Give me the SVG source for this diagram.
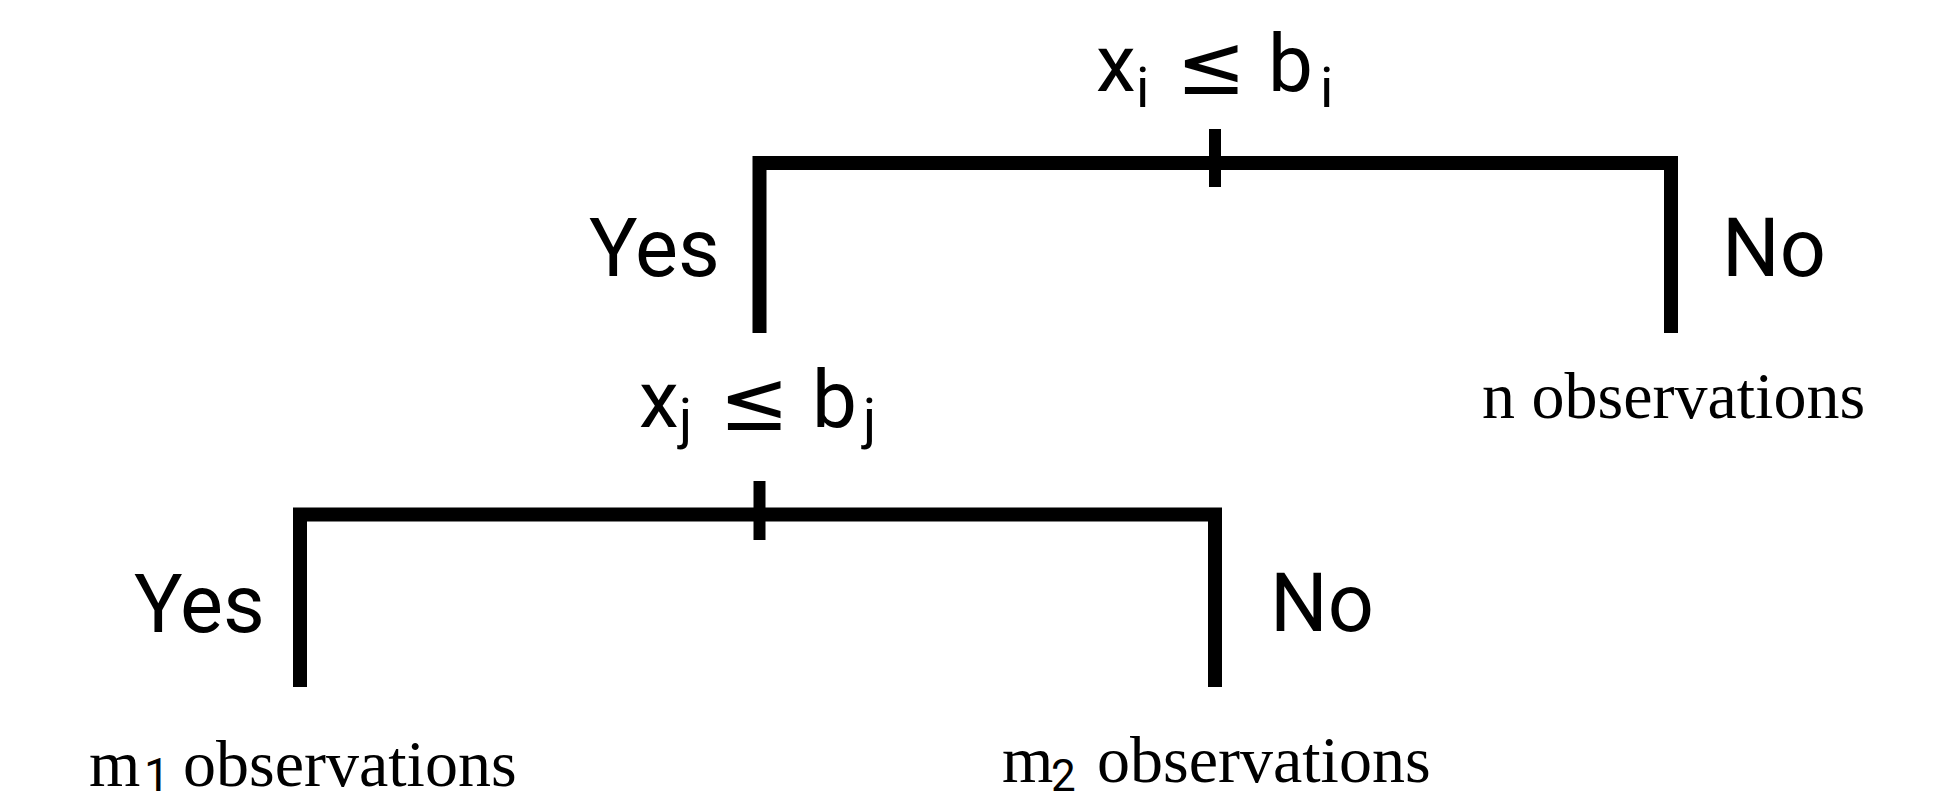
<svg xmlns="http://www.w3.org/2000/svg" width="1935" height="803" viewBox="0 0 1935 803">
<style>
.bar{fill:none;stroke:#000;stroke-width:14;stroke-linejoin:miter;stroke-linecap:butt}
.tick{stroke:#000;stroke-width:12}
.lab{font-family:Roboto,"Liberation Sans",sans-serif;font-size:81px;fill:#000}
.cond{font-family:Roboto,"Liberation Sans",sans-serif;font-size:80px;fill:#000}
.sub{font-size:55px}
.le{font-family:"DejaVu Sans",sans-serif;font-size:84px}
.obs{font-family:"Liberation Serif","Times New Roman",serif;font-size:66px;fill:#000}
.osub{font-family:Roboto,"Liberation Sans",sans-serif}
</style>
<rect width="1935" height="803" fill="#fff"/>
<g id="connectors">
<path class="bar" d="M759.5 333 V163 H1671 V333"/>
<line class="tick" x1="1215" y1="129" x2="1215" y2="187"/>
<path class="bar" d="M300 687 V514.5 H1215 V687"/>
<line class="tick" x1="759.5" y1="481" x2="759.5" y2="540"/>
</g>
<g id="node-root">
<text class="cond"><tspan x="1096" y="91">x</tspan><tspan class="sub" x="1136" y="107">i</tspan><tspan class="le" x="1176" y="94">≤</tspan><tspan x="1268" y="91">b</tspan><tspan class="sub" x="1320" y="107">i</tspan></text>
</g>
<g id="label-yes-1"><text class="lab" x="589" y="276">Yes</text></g>
<g id="label-no-1"><text class="lab" x="1722" y="276">No</text></g>
<g id="node-split2">
<text class="cond"><tspan x="639" y="427">x</tspan><tspan class="sub" x="679" y="438">j</tspan><tspan class="le" x="719" y="430">≤</tspan><tspan x="812" y="427">b</tspan><tspan class="sub" x="863" y="438">j</tspan></text>
</g>
<g id="node-n"><text class="obs" x="1482" y="418">n observations</text></g>
<g id="label-yes-2"><text class="lab" x="134" y="632">Yes</text></g>
<g id="label-no-2"><text class="lab" x="1270" y="631">No</text></g>
<g id="node-m1">
<text class="obs"><tspan x="89" y="786">m</tspan><tspan class="osub" x="144" y="791" style="font-size:46px">1</tspan><tspan x="183" y="786">observations</tspan></text>
</g>
<g id="node-m2">
<text class="obs"><tspan x="1002" y="782">m</tspan><tspan class="osub" x="1051" y="791" style="font-size:44px">2</tspan><tspan x="1097" y="782">observations</tspan></text>
</g>
</svg>
